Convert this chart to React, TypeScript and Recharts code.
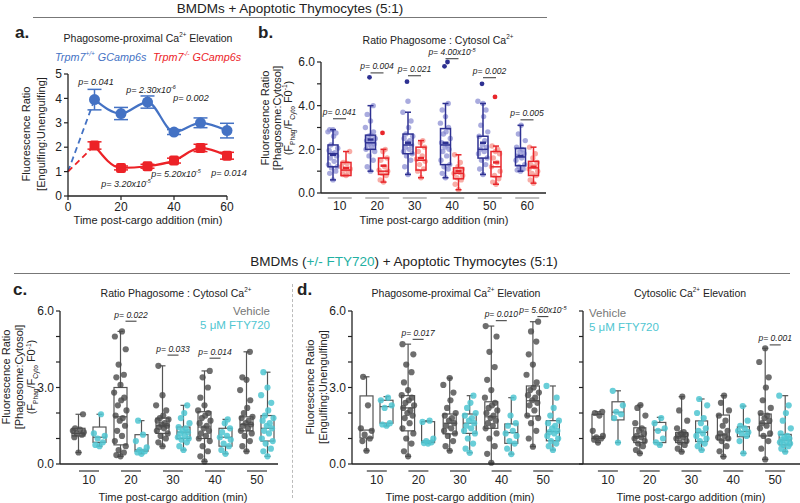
import React from 'react'
import { ComposedChart, LineChart, Line, Bar, XAxis, YAxis, ErrorBar } from 'recharts'

const FONT = '"Liberation Sans", Arial, Helvetica, sans-serif'

type Box = { lo: number; q1: number; med: number; q3: number; hi: number; mean?: number; pts: number[]; out?: number[] }

// ---------- panel a: mean ± SEM over time ----------
const aTimes = [0, 10, 20, 30, 40, 50, 60]
const aWt = [null, 3.95, 3.38, 3.85, 2.62, 3.0, 2.68]
const aWtErr = [null, 0.42, 0.25, 0.25, 0.1, 0.2, 0.3]
const aKo = [null, 2.07, 1.15, 1.22, 1.45, 1.97, 1.65]
const aKoErr = [null, 0.15, 0.08, 0.08, 0.1, 0.15, 0.14]
const aStart = 1.0

// ---------- panel b: WT vs KO boxes ----------
const bCats = ['10', '20', '30', '40', '50', '60']
const bWt: Box[] = [
  { lo: 0.6, q1: 1.2, med: 1.8, q3: 2.2, hi: 2.9, mean: 1.75, pts: [0.6, 0.9, 1.0, 1.15, 1.2, 1.3, 1.45, 1.6, 1.7, 1.8, 1.85, 1.95, 2.05, 2.2, 2.6, 2.75, 2.8, 2.9, 2.9] },
  { lo: 1.0, q1: 2.0, med: 2.3, q3: 2.65, hi: 4.0, mean: 2.45, pts: [1.0, 1.2, 1.5, 1.7, 1.9, 2.0, 2.1, 2.2, 2.25, 2.3, 2.35, 2.4, 2.5, 2.6, 2.65, 2.8, 3.0, 3.3, 3.6, 4.0], out: [5.3] },
  { lo: 0.85, q1: 1.8, med: 2.2, q3: 2.7, hi: 3.7, mean: 2.3, pts: [0.85, 1.2, 1.5, 1.7, 1.8, 1.9, 2.0, 2.1, 2.2, 2.3, 2.4, 2.5, 2.6, 2.7, 3.0, 3.3, 3.7, 4.2], out: [5.1] },
  { lo: 0.7, q1: 1.3, med: 2.2, q3: 2.95, hi: 4.1, mean: 2.3, pts: [0.7, 0.9, 1.1, 1.2, 1.3, 1.5, 1.7, 1.9, 2.0, 2.1, 2.2, 2.3, 2.5, 2.7, 2.8, 3.0, 3.2, 3.5, 3.8, 4.1], out: [5.8, 6.0] },
  { lo: 0.85, q1: 1.6, med: 2.0, q3: 2.6, hi: 4.1, mean: 2.3, pts: [0.85, 1.1, 1.3, 1.5, 1.6, 1.8, 1.9, 2.0, 2.1, 2.2, 2.4, 2.6, 2.8, 3.1, 3.5, 3.8, 4.2, 4.1], out: [5.0] },
  { lo: 1.0, q1: 1.25, med: 1.65, q3: 2.05, hi: 3.1, mean: 1.7, pts: [1.0, 1.05, 1.1, 1.2, 1.3, 1.5, 1.6, 1.7, 1.8, 1.9, 2.0, 2.1, 2.4, 2.7, 3.1] },
]
const bKo: Box[] = [
  { lo: 0.8, q1: 0.8, med: 1.05, q3: 1.4, hi: 1.9, mean: 1.15, pts: [0.8, 0.85, 0.95, 1.05, 1.1, 1.2, 1.35, 1.4, 1.9] },
  { lo: 0.5, q1: 0.85, med: 1.0, q3: 1.6, hi: 2.0, mean: 1.25, pts: [0.5, 0.6, 0.8, 0.9, 1.0, 1.05, 1.2, 1.5, 1.6, 1.9, 2.0], out: [2.75] },
  { lo: 0.7, q1: 1.05, med: 1.5, q3: 2.1, hi: 2.4, mean: 1.6, pts: [0.7, 1.0, 1.1, 1.3, 1.45, 1.55, 1.7, 1.9, 2.1, 2.3, 2.4] },
  { lo: 0.15, q1: 0.65, med: 0.9, q3: 1.15, hi: 1.75, mean: 1.0, pts: [0.15, 0.4, 0.6, 0.7, 0.8, 0.9, 0.95, 1.0, 1.1, 1.2, 1.4, 1.75] },
  { lo: 0.4, q1: 0.75, med: 1.2, q3: 1.9, hi: 2.15, mean: 1.4, pts: [0.4, 0.5, 0.65, 0.8, 1.0, 1.2, 1.4, 1.6, 1.8, 1.9, 2.0, 2.15], out: [4.4] },
  { lo: 0.45, q1: 0.8, med: 1.15, q3: 1.45, hi: 2.1, mean: 1.2, pts: [0.45, 0.6, 0.8, 0.9, 1.0, 1.1, 1.2, 1.3, 1.4, 1.6, 1.8, 2.1] },
]
const bP = ['0.041', '0.004', '0.021', '4.00x10^-5', '0.002', '0.005']
const bPY = [3.4, 5.5, 5.37, 6.15, 5.28, 3.35]

// ---------- panel c: vehicle vs FTY720, phagosome:cytosol ----------
const cdCats = ['10', '20', '30', '40', '50']
const cVeh: Box[] = [
  { lo: 0.45, q1: 1.1, med: 1.2, q3: 1.4, hi: 1.95, pts: [0.45, 1.05, 1.15, 1.2, 1.25, 1.3, 1.35, 1.4, 1.95] },
  { lo: 0.3, q1: 0.75, med: 1.85, q3: 3.0, hi: 5.2, pts: [0.3, 0.35, 0.45, 0.55, 0.7, 0.9, 1.1, 1.3, 1.5, 1.7, 1.8, 1.9, 2.1, 2.3, 2.5, 2.6, 2.8, 3.1, 3.4, 3.5, 3.9, 4.5, 5.0, 5.2] },
  { lo: 0.7, q1: 1.2, med: 1.5, q3: 1.8, hi: 3.85, pts: [0.7, 0.85, 1.0, 1.1, 1.2, 1.3, 1.4, 1.45, 1.5, 1.55, 1.6, 1.7, 1.75, 1.8, 1.9, 2.1, 2.3, 2.7, 3.85] },
  { lo: 0.1, q1: 1.0, med: 1.45, q3: 2.05, hi: 3.65, pts: [0.1, 0.3, 0.5, 0.7, 0.9, 1.0, 1.1, 1.2, 1.3, 1.4, 1.5, 1.6, 1.7, 1.8, 1.9, 2.0, 2.1, 2.3, 2.6, 3.0, 3.4, 3.65] },
  { lo: 0.5, q1: 1.3, med: 1.55, q3: 1.85, hi: 4.4, pts: [0.5, 0.7, 0.9, 1.1, 1.2, 1.3, 1.4, 1.5, 1.55, 1.6, 1.7, 1.8, 1.85, 2.0, 2.2, 2.5, 2.9, 3.3, 3.4, 4.4] },
]
const cFty: Box[] = [
  { lo: 0.7, q1: 0.85, med: 1.05, q3: 1.45, hi: 1.95, pts: [0.7, 0.75, 0.85, 1.0, 1.1, 1.2, 1.95] },
  { lo: 0.4, q1: 0.5, med: 0.55, q3: 1.15, hi: 1.7, pts: [0.4, 0.45, 0.5, 0.55, 0.65, 0.9, 1.15, 1.7] },
  { lo: 0.55, q1: 1.0, med: 1.25, q3: 1.45, hi: 2.3, pts: [0.55, 0.7, 0.85, 0.95, 1.0, 1.05, 1.1, 1.2, 1.25, 1.3, 1.4, 1.45, 1.6, 1.8, 2.0, 2.3] },
  { lo: 0.4, q1: 0.7, med: 1.05, q3: 1.4, hi: 1.75, pts: [0.4, 0.55, 0.7, 0.8, 0.95, 1.05, 1.1, 1.25, 1.4, 1.6, 1.75] },
  { lo: 0.3, q1: 0.9, med: 1.4, q3: 1.9, hi: 3.6, pts: [0.3, 0.5, 0.6, 0.8, 0.9, 1.0, 1.2, 1.3, 1.4, 1.5, 1.6, 1.7, 1.8, 1.9, 2.1, 2.4, 2.7, 3.0, 3.6] },
]
const cP = ['', '0.022', '0.033', '0.014', '']
const cPY = [0, 5.6, 4.27, 4.15, 0]

// ---------- panel d (left): phagosome-proximal ----------
const dVeh: Box[] = [
  { lo: 0.52, q1: 1.02, med: 1.33, q3: 2.67, hi: 3.42, pts: [0.52, 0.9, 1.0, 1.15, 1.3, 1.4, 2.3, 3.42] },
  { lo: 0.3, q1: 1.3, med: 2.2, q3: 2.68, hi: 4.7, pts: [0.3, 0.5, 0.8, 1.0, 1.2, 1.4, 1.6, 1.8, 1.9, 2.0, 2.1, 2.2, 2.3, 2.4, 2.5, 2.6, 2.7, 2.9, 3.2, 3.6, 3.9, 4.3, 4.7] },
  { lo: 0.52, q1: 1.18, med: 1.6, q3: 1.96, hi: 3.37, pts: [0.52, 0.7, 0.9, 1.1, 1.2, 1.3, 1.4, 1.5, 1.6, 1.7, 1.8, 1.9, 2.0, 2.2, 2.5, 2.8, 3.1, 3.37] },
  { lo: 0.05, q1: 1.4, med: 1.85, q3: 2.44, hi: 5.41, pts: [0.05, 0.4, 0.7, 1.0, 1.2, 1.4, 1.5, 1.6, 1.7, 1.8, 1.9, 2.0, 2.1, 2.2, 2.3, 2.4, 2.6, 2.9, 3.3, 3.8, 4.4, 5.0, 5.41] },
  { lo: 0.68, q1: 1.88, med: 2.48, q3: 3.06, hi: 5.58, pts: [0.68, 1.0, 1.3, 1.6, 1.8, 1.9, 2.1, 2.3, 2.4, 2.5, 2.6, 2.7, 2.8, 2.9, 3.0, 3.2, 3.5, 3.9, 4.3, 4.8, 5.2, 5.58] },
]
const dFty: Box[] = [
  { lo: 1.49, q1: 1.6, med: 2.25, q3: 2.5, hi: 2.64, pts: [1.5, 1.55, 1.6, 2.2, 2.3, 2.5, 2.6] },
  { lo: 0.8, q1: 0.84, med: 0.9, q3: 1.66, hi: 1.7, pts: [0.8, 0.82, 0.85, 0.9, 1.0, 1.65, 1.7] },
  { lo: 0.44, q1: 1.2, med: 1.6, q3: 1.96, hi: 2.68, pts: [0.44, 0.6, 0.8, 1.0, 1.2, 1.3, 1.4, 1.5, 1.6, 1.7, 1.8, 1.9, 2.0, 2.2, 2.4, 2.68] },
  { lo: 0.39, q1: 0.81, med: 1.23, q3: 1.57, hi: 2.6, pts: [0.39, 0.6, 0.8, 0.9, 1.1, 1.2, 1.3, 1.5, 1.6, 1.9, 2.6] },
  { lo: 0.55, q1: 0.91, med: 1.27, q3: 1.7, hi: 3.06, pts: [0.55, 0.7, 0.8, 0.9, 1.0, 1.1, 1.2, 1.25, 1.3, 1.4, 1.5, 1.6, 1.7, 1.9, 2.2, 2.6, 3.06] },
]
const dP = ['', '0.017', '', '0.010', '5.60x10^-5']
const dPY = [0, 4.89, 0, 5.62, 5.78]

// ---------- panel d (right): cytosolic ----------
const eVeh: Box[] = [
  { lo: 0.84, q1: 1.0, med: 1.07, q3: 1.95, hi: 2.05, pts: [0.84, 0.95, 1.0, 1.05, 1.1, 1.3, 1.9, 2.0, 2.05] },
  { lo: 0.42, q1: 0.84, med: 1.07, q3: 1.42, hi: 2.31, pts: [0.42, 0.55, 0.7, 0.8, 0.9, 1.0, 1.05, 1.1, 1.2, 1.3, 1.4, 1.6, 1.9, 2.2, 2.31] },
  { lo: 0.48, q1: 0.84, med: 1.07, q3: 1.23, hi: 2.64, pts: [0.48, 0.6, 0.75, 0.85, 0.9, 1.0, 1.05, 1.1, 1.15, 1.2, 1.25, 1.4, 1.7, 2.1, 2.64] },
  { lo: 0.29, q1: 0.94, med: 1.14, q3: 1.92, hi: 2.68, pts: [0.29, 0.5, 0.7, 0.9, 1.0, 1.05, 1.1, 1.2, 1.3, 1.5, 1.7, 1.9, 2.1, 2.4, 2.68] },
  { lo: 0.18, q1: 1.1, med: 1.6, q3: 1.96, hi: 4.54, pts: [0.18, 0.6, 0.9, 1.1, 1.2, 1.4, 1.5, 1.6, 1.7, 1.8, 1.9, 2.0, 2.2, 2.5, 3.0, 3.4, 4.0, 4.54] },
]
const eFty: Box[] = [
  { lo: 0.84, q1: 1.73, med: 2.03, q3: 2.44, hi: 2.87, pts: [0.84, 1.8, 1.95, 2.05, 2.3, 2.87] },
  { lo: 0.75, q1: 0.84, med: 1.33, q3: 1.63, hi: 1.83, pts: [0.75, 0.85, 1.0, 1.3, 1.4, 1.6, 1.8] },
  { lo: 0.55, q1: 0.88, med: 1.24, q3: 1.69, hi: 2.55, pts: [0.55, 0.7, 0.8, 0.9, 1.0, 1.1, 1.2, 1.3, 1.4, 1.6, 1.8, 2.0, 2.3, 2.55] },
  { lo: 0.42, q1: 1.07, med: 1.27, q3: 1.46, hi: 2.27, pts: [0.42, 0.9, 1.1, 1.2, 1.25, 1.3, 1.4, 1.5, 1.7, 2.27] },
  { lo: 0.48, q1: 0.75, med: 0.94, q3: 1.16, hi: 2.68, pts: [0.48, 0.6, 0.7, 0.75, 0.8, 0.85, 0.9, 0.95, 1.0, 1.05, 1.1, 1.2, 1.4, 1.7, 2.0, 2.3, 2.68] },
]
const eP = ['', '', '', '', '0.001']
const ePY = [0, 0, 0, 0, 4.67]

const yTicks6 = [0, 1, 2, 3, 4, 5, 6]

const aRows = aTimes.map((t, i) => ({
  t,
  wt: aWt[i],
  wtErr: aWtErr[i],
  ko: aKo[i],
  koErr: aKoErr[i],
  wtDash: i === 0 ? aStart : i === 1 ? aWt[1] : null,
  koDash: i === 0 ? aStart : i === 1 ? aKo[1] : null,
}))

function rows(cats: string[], A: Box[], B: Box[], P: string[], PY: number[]) {
  return cats.map((cat, i) => ({ cat, a: A[i], b: B[i], p: P[i], pY: PY[i] }))
}

type BoxStyle = {
  stroke: string
  sw: number
  dot: string
  dotOp: number
  r: number
  outDot?: string
  dotsFirst: boolean
  mean: boolean
  cap: number
}

const JIT = [0, -0.55, 0.45, -0.25, 0.7, -0.75, 0.2, -0.45, 0.6, -0.1, 0.3, -0.65, 0.8, -0.35, 0.1, 0.5, -0.85]

function PText({ x, y, p }: { x: number; y: number; p: string }) {
  const [base, exp] = p.split('^')
  return (
    <text x={x} y={y} textAnchor="middle" fontSize={8.5} fontStyle="italic" fill="#222" fontFamily={FONT}>
      {'p= ' + base}
      {exp && (
        <tspan dy={-3.5} fontSize={5.5}>
          {exp}
        </tspan>
      )}
    </text>
  )
}

function boxShape(key: 'a' | 'b', st: BoxStyle, annotate: boolean, gap: number, span: number) {
  return (props: any) => {
    const { x, y, width, height, payload } = props
    const bx: Box = payload[key]
    const top = Math.min(y, y + height)
    const h = Math.abs(height)
    const py = (v: number) => top + ((bx.hi - v) / (bx.hi - bx.lo)) * h
    const cx = x + width / 2
    const dots = (
      <g>
        {bx.pts.map((v, i) => (
          <circle key={i} cx={cx + JIT[i % JIT.length] * (width / 2 + 1)} cy={py(v)} r={st.r} fill={st.dot} fillOpacity={st.dotOp} />
        ))}
      </g>
    )
    const box = (
      <g stroke={st.stroke} strokeWidth={st.sw} fill="none">
        <line x1={cx} x2={cx} y1={py(bx.hi)} y2={py(bx.q3)} />
        <line x1={cx} x2={cx} y1={py(bx.q1)} y2={py(bx.lo)} />
        <line x1={cx - st.cap} x2={cx + st.cap} y1={py(bx.hi)} y2={py(bx.hi)} />
        <line x1={cx - st.cap} x2={cx + st.cap} y1={py(bx.lo)} y2={py(bx.lo)} />
        <rect x={x} y={py(bx.q3)} width={width} height={py(bx.q1) - py(bx.q3)} />
        <line x1={x} x2={x + width} y1={py(bx.med)} y2={py(bx.med)} />
        {st.mean && bx.mean !== undefined && (
          <line x1={cx - width * 0.3} x2={cx + width * 0.3} y1={py(bx.mean)} y2={py(bx.mean)} strokeWidth={st.sw + 1} />
        )}
      </g>
    )
    const outs = (bx.out || []).map((v, i) => (
      <circle key={'o' + i} cx={cx + (i % 2 ? 2 : -1)} cy={py(v)} r={st.r - 0.3} fill={st.outDot || st.stroke} />
    ))
    let ann = null
    if (annotate && payload.p) {
      const ax = x + width + gap / 2
      const ay = py(payload.pY)
      ann = (
        <g>
          <line x1={ax - span} x2={ax + span} y1={ay} y2={ay} stroke="#333" strokeWidth={1} />
          <PText x={ax} y={ay - 3.5} p={payload.p} />
        </g>
      )
    }
    return (
      <g>
        {st.dotsFirst ? dots : box}
        {st.dotsFirst ? box : dots}
        {outs}
        {ann}
      </g>
    )
  }
}

const catTick = (color: string, half: number, lineDy: number, textDy: number) => (props: any) => {
  const { x, y, payload } = props
  return (
    <g>
      <line x1={x - half} x2={x + half} y1={y + lineDy} y2={y + lineDy} stroke={color} strokeWidth={1.3} />
      <text x={x} y={y + textDy} textAnchor="middle" fontSize={12} fill="#222" fontFamily={FONT}>
        {payload.value}
      </text>
    </g>
  )
}

const axisLine = { stroke: '#222', strokeWidth: 1.3 }
const tickLine = { stroke: '#222', strokeWidth: 1.2 }
const yTickStyle = { fontSize: 12, fill: '#222', fontFamily: FONT }

function Txt(props: {
  x: number
  y: number
  size?: number
  color?: string
  anchor?: 'start' | 'middle' | 'end'
  italic?: boolean
  bold?: boolean
  rotate?: boolean
  lh?: number
  children: React.ReactNode
}) {
  const { x, y, size = 11, color = '#222', anchor = 'middle', italic, bold, rotate, lh, children } = props
  const tx = anchor === 'start' ? '0' : anchor === 'end' ? '-100%' : '-50%'
  return (
    <div
      style={{
        position: 'absolute',
        left: x,
        top: y,
        transform: `translate(${tx}, -50%)${rotate ? ' rotate(-90deg)' : ''}`,
        fontSize: size,
        color,
        fontStyle: italic ? 'italic' : 'normal',
        fontWeight: bold ? 700 : 400,
        whiteSpace: 'nowrap',
        lineHeight: lh ? `${lh}px` : 1,
        textAlign: 'center',
        fontFamily: FONT,
      }}
    >
      {children}
    </div>
  )
}

const sup = (s: string) => <sup style={{ fontSize: '0.6em', verticalAlign: 'super', lineHeight: 0 }}>{s}</sup>
const sub = (s: string) => <sub style={{ fontSize: '0.6em', verticalAlign: 'sub', lineHeight: 0 }}>{s}</sub>

const BLUE = '#4472C4'
const RED = '#EC2227'
const NAVY = '#2E3192'
const BRED = '#E8262B'
const GREY = '#555555'
const CYAN = '#4FC6D1'

const bWtStyle: BoxStyle = { stroke: NAVY, sw: 1.5, dot: '#8488D0', dotOp: 0.7, r: 2.7, outDot: NAVY, dotsFirst: true, mean: true, cap: 3 }
const bKoStyle: BoxStyle = { stroke: BRED, sw: 1.5, dot: '#F59088', dotOp: 0.75, r: 2.7, outDot: BRED, dotsFirst: true, mean: true, cap: 3 }
const vehStyle: BoxStyle = { stroke: GREY, sw: 1.2, dot: '#4a4a4a', dotOp: 0.8, r: 3.1, dotsFirst: false, mean: false, cap: 3 }
const ftyStyle: BoxStyle = { stroke: GREY, sw: 1.2, dot: CYAN, dotOp: 0.85, r: 3.1, dotsFirst: false, mean: false, cap: 3 }

function BoxPanel(props: {
  left: number
  top: number
  width: number
  height: number
  margin: { top: number; right: number; bottom: number; left: number }
  data: any[]
  yWidth: number
  yLabels: (v: number) => string
  pad: { left: number; right: number }
  barSize: number
  gap: number
  sA: BoxStyle
  sB: BoxStyle
  span: number
  tick: (p: any) => React.ReactElement
}) {
  const { left, top, width, height, margin, data, yWidth, yLabels, pad, barSize, gap, sA, sB, span, tick } = props
  return (
    <div style={{ position: 'absolute', left, top }}>
      <ComposedChart width={width} height={height} data={data} margin={margin} barGap={gap}>
        <XAxis dataKey="cat" height={20} axisLine={axisLine} tickLine={false} tickSize={0} tickMargin={0} tick={tick} padding={pad} interval={0} />
        <YAxis
          width={yWidth}
          domain={[0, 6]}
          ticks={yTicks6}
          interval={0}
          tickFormatter={yLabels}
          axisLine={axisLine}
          tickLine={tickLine}
          tickSize={4}
          tick={yTickStyle}
        />
        <Bar name="A" dataKey={(d: any) => [d.a.lo, d.a.hi]} barSize={barSize} isAnimationActive={false} shape={boxShape('a', sA, true, gap, span)} />
        <Bar name="B" dataKey={(d: any) => [d.b.lo, d.b.hi]} barSize={barSize} isAnimationActive={false} shape={boxShape('b', sB, false, gap, span)} />
      </ComposedChart>
    </div>
  )
}

const redSquare = (props: any) => {
  const { cx, cy, value } = props
  if (value == null || cy == null) return <g key={props.index} />
  return <rect key={props.index} x={cx - 5} y={cy - 5} width={10} height={10} rx={2} fill={RED} />
}
const blueCircle = (props: any) => {
  const { cx, cy, value } = props
  if (value == null || cy == null) return <g key={props.index} />
  return <circle key={props.index} cx={cx} cy={cy} r={5.5} fill={BLUE} />
}

export default function App() {
  const bRows = rows(bCats, bWt, bKo, bP, bPY)
  const cRows = rows(cdCats, cVeh, cFty, cP, cPY)
  const dRows = rows(cdCats, dVeh, dFty, dP, dPY)
  const eRows = rows(cdCats, eVeh, eFty, eP, ePY)
  const evenLbl = (v: number) => (v % 2 === 0 ? v.toFixed(1) : '')
  const thirdLbl = (v: number) => (v % 3 === 0 ? v.toFixed(1) : '')
  const noLbl = () => ''
  const tickB = catTick('#9a9a9a', 12, 5, 17)
  const tickCD = catTick('#444', 10, 7, 20)

  return (
    <div style={{ position: 'absolute', left: 0, top: 0, width: 800, height: 503, background: '#fff', fontFamily: FONT, overflow: 'hidden' }}>
      {/* headers */}
      <Txt x={290} y={9} size={13.5}>BMDMs + Apoptotic Thymocytes (5:1)</Txt>
      <div style={{ position: 'absolute', left: 33, top: 17, width: 514, borderTop: '1px solid #777' }} />
      <Txt x={404} y={262} size={13.5}>
        BMDMs (<span style={{ color: '#22B0A2' }}>+/- FTY720</span>) + Apoptotic Thymocytes (5:1)
      </Txt>
      <div style={{ position: 'absolute', left: 14, top: 273, width: 776, borderTop: '1px solid #777' }} />
      <div style={{ position: 'absolute', left: 292, top: 284, height: 214, borderLeft: '1.3px dashed #bbb' }} />

      {/* panel a */}
      <Txt x={15} y={32} size={17} bold anchor="start">a.</Txt>
      <Txt x={148} y={38} size={10.5}>Phagosome-proximal Ca{sup('2+')} Elevation</Txt>
      <Txt x={55} y={57} size={10.8} italic color={BLUE} anchor="start">Trpm7{sup('+/+')} GCamp6s</Txt>
      <Txt x={153} y={57} size={10.8} italic color={RED} anchor="start">Trpm7{sup('-/-')} GCamp6s</Txt>
      <Txt x={34} y={134} size={11} rotate lh={15}>
        Fluorescence Ratio
        <br />
        [Engulfing:Unengulfing]
      </Txt>
      <Txt x={148} y={220} size={11}>Time post-cargo addition (min)</Txt>
      <div style={{ position: 'absolute', left: 0, top: 0 }}>
        <LineChart width={240} height={230} data={aRows} margin={{ top: 74, right: 13, bottom: 14, left: 38 }}>
          <XAxis
            type="number"
            dataKey="t"
            domain={[0, 60]}
            ticks={[0, 20, 40, 60]}
            height={20}
            axisLine={axisLine}
            tickLine={tickLine}
            tickSize={4}
            tick={{ fontSize: 12, fill: '#222', fontFamily: FONT }}
          />
          <YAxis width={30} domain={[0, 5]} ticks={[0, 1, 2, 3, 4, 5]} axisLine={axisLine} tickLine={tickLine} tickSize={4} tick={yTickStyle} />
          <Line dataKey="wtDash" stroke={BLUE} strokeWidth={1.8} strokeDasharray="6 4" dot={false} activeDot={false} isAnimationActive={false} />
          <Line dataKey="koDash" stroke={RED} strokeWidth={1.8} strokeDasharray="6 4" dot={false} activeDot={false} isAnimationActive={false} />
          <Line type="monotone" dataKey="wt" stroke={BLUE} strokeWidth={2.2} dot={blueCircle} activeDot={false} isAnimationActive={false}>
            <ErrorBar dataKey="wtErr" width={7} stroke={BLUE} strokeWidth={1.5} direction="y" />
          </Line>
          <Line type="monotone" dataKey="ko" stroke={RED} strokeWidth={2.2} dot={redSquare} activeDot={false} isAnimationActive={false}>
            <ErrorBar dataKey="koErr" width={7} stroke={RED} strokeWidth={1.5} direction="y" />
          </Line>
        </LineChart>
      </div>
      <Txt x={96} y={82} size={9} italic>p= 0.041</Txt>
      <Txt x={151} y={90} size={9} italic>p= 2.30x10{sup('-6')}</Txt>
      <Txt x={191} y={98} size={9} italic>p= 0.002</Txt>
      <Txt x={126} y={184} size={9} italic>p= 3.20x10{sup('-5')}</Txt>
      <Txt x={176} y={174} size={9} italic>p= 5.20x10{sup('-5')}</Txt>
      <Txt x={229} y={173} size={9} italic>p= 0.014</Txt>

      {/* panel b */}
      <Txt x={258} y={32} size={17} bold anchor="start">b.</Txt>
      <Txt x={438} y={40} size={10.5}>Ratio Phagosome : Cytosol Ca{sup('2+')}</Txt>
      <Txt x={277} y={118} size={11} rotate lh={11.5}>
        Fluorescence Ratio
        <br />
        [Phagosome:Cytosol]
        <br />
        (F{sub('Phag')}/F{sub('Cyto')} F0{sup('-1')})
      </Txt>
      <Txt x={434} y={220} size={11}>Time post-cargo addition (min)</Txt>
      <BoxPanel
        left={240}
        top={0}
        width={320}
        height={230}
        margin={{ top: 62, right: 14, bottom: 17, left: 41 }}
        data={bRows}
        yWidth={40}
        yLabels={evenLbl}
        pad={{ left: 0, right: 0 }}
        barSize={10}
        gap={3}
        sA={bWtStyle}
        sB={bKoStyle}
        span={6.5}
        tick={tickB}
      />

      {/* panel c */}
      <Txt x={13} y={289} size={17} bold anchor="start">c.</Txt>
      <Txt x={176} y={293} size={10.5}>Ratio Phagosome : Cytosol Ca{sup('2+')}</Txt>
      <Txt x={270} y={312} size={11.5} color="#777" anchor="end">Vehicle</Txt>
      <Txt x={270} y={326} size={11.5} color={CYAN} anchor="end">5 μM FTY720</Txt>
      <Txt x={19} y={377} size={11} rotate lh={12.5}>
        Fluorescence Ratio
        <br />
        [Phagosome:Cytosol]
        <br />
        (F{sub('Phag')}/F{sub('Cyto')} F0{sup('-1')})
      </Txt>
      <Txt x={173} y={497} size={11}>Time post-cargo addition (min)</Txt>
      <BoxPanel
        left={0}
        top={280}
        width={290}
        height={223}
        margin={{ top: 31, right: 12, bottom: 19, left: 25 }}
        data={cRows}
        yWidth={35}
        yLabels={thirdLbl}
        pad={{ left: 8, right: 0 }}
        barSize={13}
        gap={8}
        sA={vehStyle}
        sB={ftyStyle}
        span={5.5}
        tick={tickCD}
      />

      {/* panel d */}
      <Txt x={297} y={289} size={17} bold anchor="start">d.</Txt>
      <Txt x={456} y={293} size={10.5}>Phagosome-proximal Ca{sup('2+')} Elevation</Txt>
      <Txt x={690} y={293} size={10.5}>Cytosolic Ca{sup('2+')} Elevation</Txt>
      <Txt x={589} y={314} size={11.5} color="#777" anchor="start">Vehicle</Txt>
      <Txt x={589} y={328} size={11.5} color={CYAN} anchor="start">5 μM FTY720</Txt>
      <Txt x={317} y={387} size={11} rotate lh={13}>
        Fluorescence Ratio
        <br />
        [Engulfing:Unengulfing]
      </Txt>
      <Txt x={460} y={497} size={11}>Time post-cargo addition (min)</Txt>
      <Txt x={691} y={497} size={11}>Time post-cargo addition (min)</Txt>
      <BoxPanel
        left={300}
        top={280}
        width={290}
        height={223}
        margin={{ top: 31, right: 7, bottom: 19, left: 17 }}
        data={dRows}
        yWidth={35}
        yLabels={thirdLbl}
        pad={{ left: 4, right: 19 }}
        barSize={13}
        gap={7}
        sA={vehStyle}
        sB={ftyStyle}
        span={5.5}
        tick={tickCD}
      />
      <BoxPanel
        left={545}
        top={280}
        width={255}
        height={223}
        margin={{ top: 31, right: 0, bottom: 19, left: 0 }}
        data={eRows}
        yWidth={38}
        yLabels={noLbl}
        pad={{ left: 4, right: 4 }}
        barSize={12}
        gap={8}
        sA={vehStyle}
        sB={ftyStyle}
        span={5.5}
        tick={tickCD}
      />
    </div>
  )
}
